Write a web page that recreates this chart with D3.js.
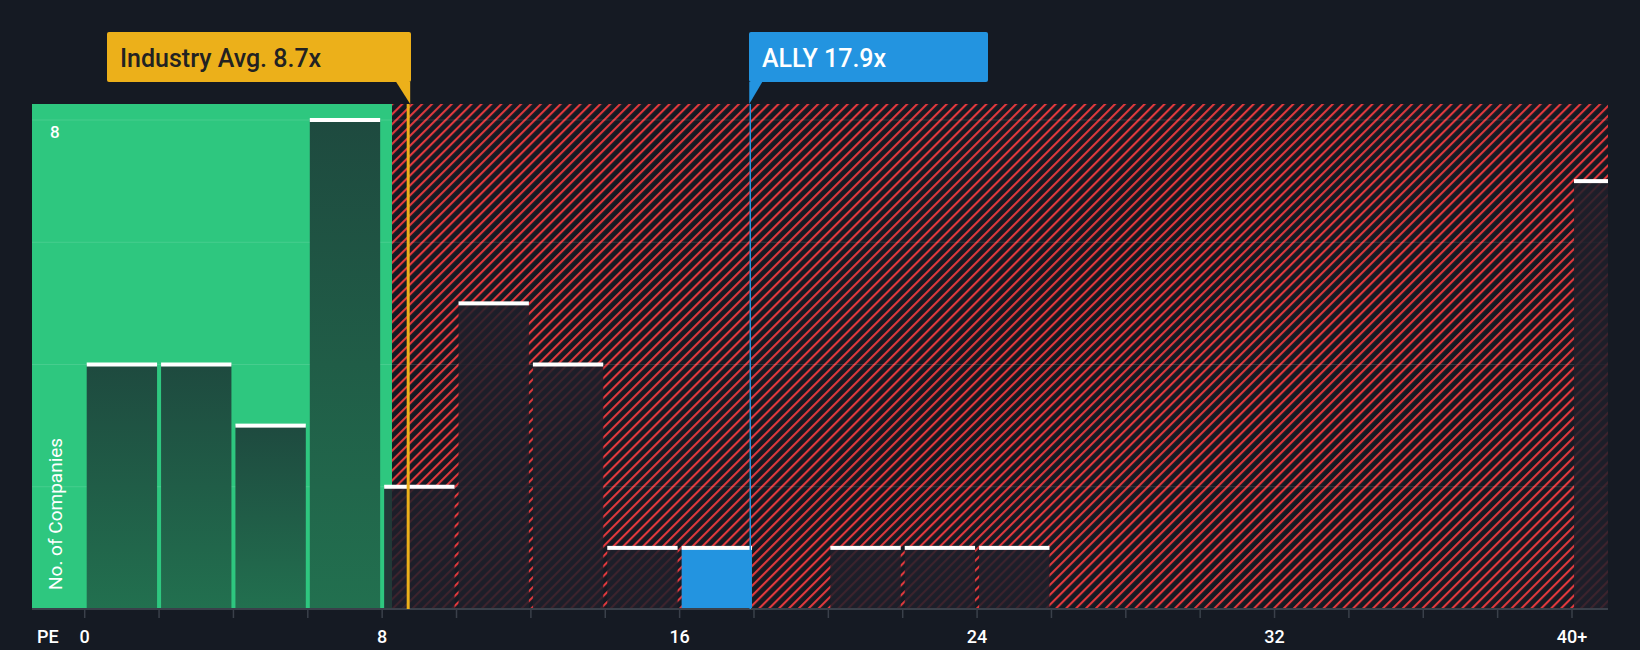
<!DOCTYPE html>
<html><head><meta charset="utf-8">
<script src="https://cdn.jsdelivr.net/npm/d3@7"></script>
<style>body{margin:0;background:#151a23;}svg{display:block;font-family:Roboto,sans-serif;}</style>
</head><body><svg id="c" width="1640" height="650"></svg>
<script>
const binStarts = [0,2,4,6,8,10,12,14,16,18,20,22,24,26,28,30,32,34,36,38,40];
const counts    = [4,4,3,8,2,5,4,1,1,0,1,1,1,0,0,0,0,0,0,0,7];
const tickVals = [0,8,16,24,32,40];
const tickLabels = ["0","8","16","24","32","40+"];
const industryAvg = 8.7, allyPE = 17.9, allyBin = 16;

const svg = d3.select("#c");
const L=32,R=1608,T=104,B=609;
const x = d3.scaleLinear().domain([0,40]).range([84.7,1572]);
const y = d3.scaleLinear().domain([0,8]).range([B,120]);

const defs = svg.append("defs");
const pat = defs.append("pattern").attr("id","h").attr("patternUnits","userSpaceOnUse")
  .attr("width",7).attr("height",7).attr("patternTransform","rotate(45)");
pat.append("rect").attr("width",7).attr("height",7).attr("fill","#151a23");
pat.append("line").attr("x1",1).attr("y1",0).attr("x2",1).attr("y2",7).attr("stroke","#e0393d").attr("stroke-width",2.2);
const g1 = defs.append("linearGradient").attr("id","gb").attr("x1",0).attr("x2",0).attr("y1",0).attr("y2",1);
g1.append("stop").attr("offset","0").attr("stop-color","#1e4a3f");
g1.append("stop").attr("offset","1").attr("stop-color","#22704f");

const greenEnd = industryAvg*0.95;
svg.append("rect").attr("x",L).attr("y",T).attr("width",x(greenEnd)-L).attr("height",B-T).attr("fill","#2ec77f");
svg.append("rect").attr("x",x(greenEnd)).attr("y",T).attr("width",R-x(greenEnd)).attr("height",B-T).attr("fill","url(#h)");

[2,4,6,8].forEach(v=>svg.append("line").attr("x1",L).attr("x2",R).attr("y1",y(v)).attr("y2",y(v))
  .attr("stroke","rgba(255,255,255,0.12)").attr("stroke-width",1));

binStarts.forEach((s,i)=>{
  const c=counts[i]; if(!c) return;
  const x0=x(s)+2, x1=Math.min(x(s+2),R)-2+ (s===40?2:0);
  const onGreen = s+2<=greenEnd;
  const fill = s===allyBin ? "#2394e0" : (onGreen ? "url(#gb)" : "rgba(30,32,42,0.85)");
  svg.append("rect").attr("x",x0).attr("y",y(c)).attr("width",x1-x0).attr("height",B-y(c)).attr("fill",fill);
  svg.append("rect").attr("x",x0).attr("y",y(c)-2).attr("width",x1-x0).attr("height",4).attr("fill","#fff");
});

svg.append("line").attr("x1",L).attr("x2",R).attr("y1",B).attr("y2",B).attr("stroke","#3a404a").attr("stroke-width",2);
d3.range(0,42,2).forEach(v=>svg.append("line").attr("x1",x(v)).attr("x2",x(v)).attr("y1",B).attr("y2",B+9).attr("stroke","#3a404a").attr("stroke-width",1.5));
tickVals.forEach((v,i)=>svg.append("text").attr("x",x(v)).attr("y",643).attr("text-anchor","middle")
  .attr("fill","#fff").attr("font-size",18).attr("font-weight",500).text(tickLabels[i]));
svg.append("text").attr("x",37).attr("y",643).attr("fill","#fff").attr("font-size",18).attr("font-weight",500).text("PE");
svg.append("text").attr("x",50).attr("y",y(8)+18).attr("fill","#fff").attr("font-size",17).attr("font-weight",500).text("8");
svg.append("text").attr("transform","translate(62,590) rotate(-90)").attr("fill","#fff").attr("font-size",19).text("No. of Companies");

function marker(v,color,label,bx0,bx1,tc){
  svg.append("line").attr("x1",x(v)).attr("x2",x(v)).attr("y1",T).attr("y2",B).attr("stroke",color).attr("stroke-width",v===industryAvg?3:1.5);
  svg.append("rect").attr("x",bx0).attr("y",32).attr("width",bx1-bx0).attr("height",50).attr("rx",2).attr("fill",color);
  if(v===industryAvg)
    svg.append("path").attr("d",`M${x(v)-12},82 L${x(v)+2},82 L${x(v)+2},${T} Z`).attr("fill",color);
  else
    svg.append("path").attr("d",`M${x(v)-1},82 L${x(v)+12},82 L${x(v)-1},${T} Z`).attr("fill",color);
  svg.append("text").attr("x",bx0+13).attr("y",67).attr("fill",tc).attr("font-size",25).attr("font-weight",500).text(label);
}
marker(industryAvg,"#ecb01a","Industry Avg. 8.7x",107,411,"#222");
marker(allyPE,"#2394e0","ALLY 17.9x",749,988,"#fff");
</script></body></html>
